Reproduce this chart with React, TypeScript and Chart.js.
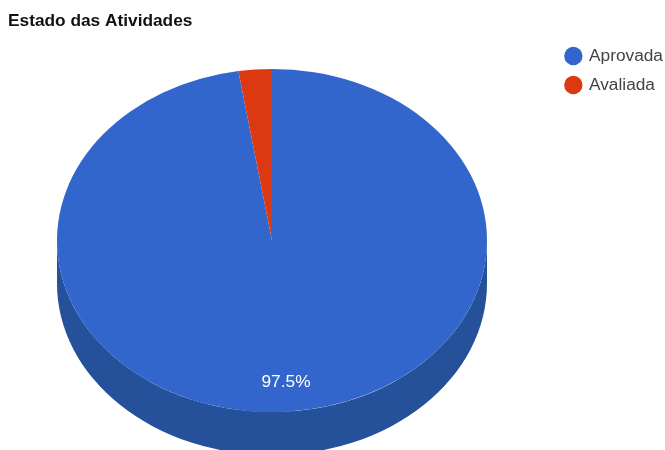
import React, { useEffect, useRef } from "react";
import { Chart, registerables } from "chart.js";

Chart.register(...registerables);

const titleText = "Estado das Atividades";
const categories = ["Aprovada", "Avaliada"];
const values = [97.5, 2.5];
const faceColors = ["#3366CC", "#DC3912"];
const sideColors = ["#25509A", "#A52B0E"];
const shownLabels = ["97.5%", ""];

const FONT = "'Liberation Sans', Arial, sans-serif";
const FONT_SIZE = 17.3;
const CENTER_X = 272;
const CENTER_Y = 240.5;
const RADIUS = 215;
const SQUASH = 0.798;
const DEPTH = 43;
const LEGEND_LEFT = 554.65;
const LEGEND_TOP = 35.7;

const pie3d = {
  id: "pie3d",
  afterLayout(chart: any) {
    chart.legend.left = LEGEND_LEFT;
    chart.legend.top = LEGEND_TOP;
  },
  beforeDatasetsDraw(chart: any) {
    const ctx = chart.ctx;
    const arcs = chart.getDatasetMeta(0).data;
    const a0 = arcs[0];
    ctx.save();
    ctx.translate(CENTER_X, CENTER_Y);
    ctx.scale(1, SQUASH);
    ctx.translate(-a0.x, -a0.y);
    // extruded wall: only the front half of the disc shows
    arcs.forEach((arc: any, i: number) => {
      const p = arc.getProps(["x", "y", "startAngle", "endAngle", "outerRadius"], true);
      const s = Math.max(p.startAngle, 0);
      const e = Math.min(p.endAngle, Math.PI);
      if (e <= s) return;
      const d = DEPTH / SQUASH;
      ctx.beginPath();
      ctx.arc(p.x, p.y + d, p.outerRadius, s, e);
      ctx.arc(p.x, p.y, p.outerRadius, e, s, true);
      ctx.closePath();
      ctx.fillStyle = sideColors[i];
      ctx.fill();
    });
  },
  afterDatasetsDraw(chart: any) {
    const ctx = chart.ctx;
    ctx.restore();
    const arcs = chart.getDatasetMeta(0).data;
    ctx.save();
    ctx.fillStyle = "#FFFFFF";
    ctx.font = `${FONT_SIZE}px ${FONT}`;
    ctx.textAlign = "center";
    ctx.textBaseline = "middle";
    arcs.forEach((arc: any, i: number) => {
      if (!shownLabels[i]) return;
      const p = arc.getProps(["startAngle", "endAngle", "outerRadius"], true);
      const mid = (p.startAngle + p.endAngle) / 2;
      const r = p.outerRadius * 0.83;
      ctx.fillText(
        shownLabels[i],
        CENTER_X + Math.cos(mid) * r,
        CENTER_Y + Math.sin(mid) * r * SQUASH
      );
    });
    ctx.restore();
  },
};

export default function App() {
  const ref = useRef<HTMLCanvasElement>(null);
  useEffect(() => {
    const chart = new Chart(ref.current!, {
      type: "pie",
      data: {
        labels: categories,
        datasets: [
          {
            data: values,
            backgroundColor: faceColors,
            borderWidth: 0,
            radius: RADIUS,
          },
        ],
      },
      options: {
        responsive: false,
        animation: false,
        layout: { padding: { left: 8, right: 2 } },
        plugins: {
          tooltip: { enabled: false },
          title: {
            display: true,
            text: titleText,
            align: "start",
            color: "#111111",
            font: { family: FONT, size: FONT_SIZE, weight: "bold" },
            padding: { top: 11, bottom: 14 },
          },
          legend: {
            position: "right",
            align: "start",
            labels: {
              usePointStyle: true,
              pointStyle: "circle",
              boxWidth: 14,
              boxHeight: 13,
              color: "#444444",
              font: { family: FONT, size: FONT_SIZE },
              padding: 11.7,
            },
          },
        },
      },
      plugins: [pie3d],
    } as any);
    return () => chart.destroy();
  }, []);
  return (
    <canvas
      ref={ref}
      width={665}
      height={450}
      style={{ position: "fixed", left: 0, top: 0, display: "block" }}
    />
  );
}
